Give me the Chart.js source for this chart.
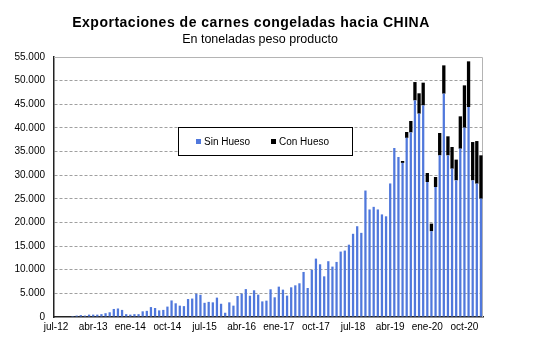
<!DOCTYPE html>
<html>
<head>
<meta charset="utf-8">
<script src="https://cdn.jsdelivr.net/npm/chart.js@4/dist/chart.umd.min.js"></script>
<style>
  html, body { margin: 0; padding: 0; background: #ffffff; }
  canvas { display: block; }
</style>
</head>
<body>
<canvas id="chart" width="533" height="345"></canvas>
<script>
// Monthly categories, jul-12 to feb-21
const months = [
  'jul-12','ago-12','sep-12','oct-12','nov-12','dic-12',
  'ene-13','feb-13','mar-13','abr-13','may-13','jun-13','jul-13','ago-13','sep-13','oct-13','nov-13','dic-13',
  'ene-14','feb-14','mar-14','abr-14','may-14','jun-14','jul-14','ago-14','sep-14','oct-14','nov-14','dic-14',
  'ene-15','feb-15','mar-15','abr-15','may-15','jun-15','jul-15','ago-15','sep-15','oct-15','nov-15','dic-15',
  'ene-16','feb-16','mar-16','abr-16','may-16','jun-16','jul-16','ago-16','sep-16','oct-16','nov-16','dic-16',
  'ene-17','feb-17','mar-17','abr-17','may-17','jun-17','jul-17','ago-17','sep-17','oct-17','nov-17','dic-17',
  'ene-18','feb-18','mar-18','abr-18','may-18','jun-18','jul-18','ago-18','sep-18','oct-18','nov-18','dic-18',
  'ene-19','feb-19','mar-19','abr-19','may-19','jun-19','jul-19','ago-19','sep-19','oct-19','nov-19','dic-19',
  'ene-20','feb-20','mar-20','abr-20','may-20','jun-20','jul-20','ago-20','sep-20','oct-20','nov-20','dic-20',
  'ene-21','feb-21'
];

// Boneless frozen meat, tonnes
const sinHueso = [
  0, 0, 0, 0, 200, 300,
  400, 300, 500, 500, 500, 600, 800, 1000, 1700, 1800, 1500, 600,
  500, 600, 600, 1200, 1300, 2100, 1900, 1400, 1500, 2200, 3500, 2900,
  2400, 2300, 3800, 3900, 4900, 4700, 3000, 3200, 3100, 4100, 2800, 900,
  3100, 2400, 4450, 4950, 5900, 4500, 5650, 4730, 3300, 3460, 5860, 4170,
  6420, 5790, 4520, 6280, 6700, 7130, 9530, 6140, 9950, 12350, 11150, 8600,
  11800, 10660, 11650, 13840, 14050, 15300, 17600, 19200, 17800, 26750, 22750, 23300,
  22750, 21700, 21300, 28250, 35750, 33850, 32600, 37900, 39050, 45830, 43020, 44770,
  28560, 18150, 27500, 34200, 47250, 34200, 31380, 28910, 35610, 40050, 44420, 28910,
  28210, 25040
];

// Bone-in frozen meat, tonnes
const conHueso = [
  0, 0, 0, 0, 0, 0,
  0, 0, 0, 0, 0, 0, 0, 0, 0, 0, 0, 0,
  0, 0, 0, 0, 0, 0, 0, 0, 0, 0, 0, 0,
  0, 0, 0, 0, 0, 0, 0, 0, 0, 0, 0, 0,
  0, 0, 0, 0, 0, 0, 0, 0, 0, 0, 0, 0,
  0, 0, 0, 0, 0, 0, 0, 0, 0, 0, 0, 0,
  0, 0, 0, 0, 0, 0, 0, 0, 0, 0, 0, 0,
  0, 0, 0, 0, 0, 0, 400, 1230, 2410, 3870, 4300, 4800,
  1900, 1600, 2110, 4720, 5980, 4020, 4580, 4380, 6840, 8950, 9660, 8100,
  9010, 9160
];

const yTicks = [0, 5000, 10000, 15000, 20000, 25000, 30000, 35000, 40000, 45000, 50000, 55000];
const labelEvery = 9;

const titleText = 'Exportaciones de carnes congeladas hacia CHINA';
const subtitleText = 'En toneladas peso producto';

const fmt = v => String(v).replace(/\B(?=(\d{3})+(?!\d))/g, '.');

// Headings, plot frame and the boxed legend
const decor = {
  id: 'decor',
  beforeDatasetsDraw(chart) {
    const { ctx, chartArea: a } = chart;
    ctx.save();
    ctx.strokeStyle = '#b4b4b4';
    ctx.lineWidth = 1;
    ctx.beginPath();
    ctx.moveTo(a.left, a.top + 0.5);
    ctx.lineTo(a.right - 0.5, a.top + 0.5);
    ctx.lineTo(a.right - 0.5, a.bottom);
    ctx.stroke();
    ctx.restore();
  },
  afterDraw(chart) {
    const { ctx } = chart;
    ctx.save();
    ctx.fillStyle = '#000';
    ctx.textAlign = 'center';
    ctx.textBaseline = 'middle';
    ctx.font = 'bold 14px "Liberation Sans", Arial, sans-serif';
    ctx.letterSpacing = '0.5px';
    ctx.fillText(titleText, 251, 23);
    ctx.font = '12.5px "Liberation Sans", Arial, sans-serif';
    ctx.letterSpacing = '0px';
    ctx.fillText(subtitleText, 260, 40);

    // legend
    const lx = 178, ly = 127, lw = 174, lh = 28;
    ctx.fillStyle = '#fff';
    ctx.fillRect(lx, ly, lw, lh);
    ctx.strokeStyle = '#000';
    ctx.lineWidth = 1;
    ctx.strokeRect(lx + 0.5, ly + 0.5, lw, lh);
    ctx.font = '10px "Liberation Sans", Arial, sans-serif';
    ctx.textAlign = 'left';
    const items = chart.data.datasets;
    const xs = [196, 271];
    items.forEach((ds, i) => {
      ctx.fillStyle = ds.backgroundColor;
      ctx.fillRect(xs[i], ly + 12, 5, 5);
      ctx.fillStyle = '#000';
      ctx.fillText(ds.label, xs[i] + 8, ly + 15);
    });
    ctx.restore();
  }
};

new Chart(document.getElementById('chart'), {
  type: 'bar',
  data: {
    labels: months,
    datasets: [
      {
        label: 'Sin Hueso',
        data: sinHueso,
        backgroundColor: '#5078dc',
        borderWidth: 0,
        barPercentage: 0.55,
        categoryPercentage: 1.0
      },
      {
        label: 'Con Hueso',
        data: conHueso,
        backgroundColor: '#000000',
        borderWidth: 0,
        barPercentage: 0.8,
        categoryPercentage: 1.0
      }
    ]
  },
  options: {
    responsive: false,
    animation: false,
    devicePixelRatio: 1,
    layout: { padding: { top: 57, right: 50, bottom: 0, left: 0 } },
    plugins: {
      legend: { display: false },
      title: { display: false },
      tooltip: { enabled: false }
    },
    scales: {
      x: {
        stacked: true,
        offset: true,
        grid: { display: false, drawTicks: false },
        border: { display: true, color: '#222', width: 1.5 },
        ticks: {
          autoSkip: false,
          maxRotation: 0,
          minRotation: 0,
          padding: 4,
          color: '#000',
          font: { family: '"Liberation Sans", Arial, sans-serif', size: 10 },
          callback: function (value, index) {
            return index % labelEvery === 0 ? months[index] : '';
          }
        },
        afterFit: s => { s.height = 28; }
      },
      y: {
        stacked: true,
        min: 0,
        max: 55000,
        afterBuildTicks: s => { s.ticks = yTicks.map(v => ({ value: v })); },
        grid: {
          color: ctx => (ctx.tick && (ctx.tick.value === 0 || ctx.tick.value === 55000)) ? 'rgba(0,0,0,0)' : '#a0a0a0',
          lineWidth: 1,
          drawTicks: false
        },
        border: { display: true, color: '#222', width: 1.5, dash: [3, 2] },
        ticks: {
          padding: 9,
          color: '#000',
          font: { family: '"Liberation Sans", Arial, sans-serif', size: 10 },
          callback: v => fmt(v)
        },
        afterFit: s => { s.width = 54; }
      }
    }
  },
  plugins: [decor]
});
</script>
</body>
</html>
